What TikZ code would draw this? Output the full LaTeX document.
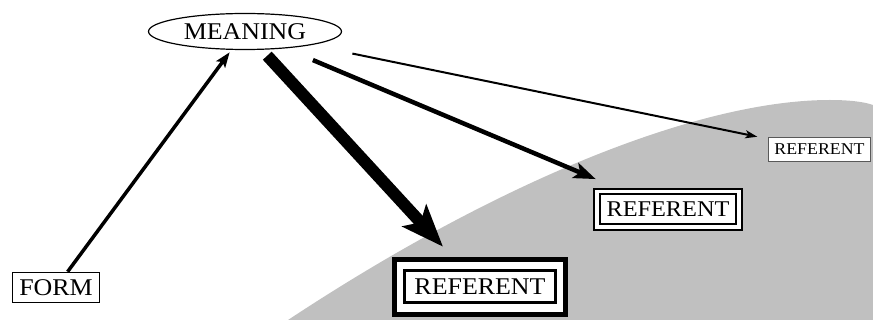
\documentclass[tikz,border=0pt]{standalone}
\usepackage{fontspec}
\setmainfont{Liberation Serif}[FakeStretch=1.08]
\usepackage{xcolor}
\usetikzlibrary{arrows.meta, shapes.geometric}
\definecolor{fieldgray}{RGB}{192,192,192}

\begin{document}
\begin{tikzpicture}[x=1pt, y=-1pt,
    word/.style={font=\fontsize{24}{28}\selectfont, inner sep=0pt},
    box/.style={word, draw, rectangle, fill=white},
    formarr/.style={-{Stealth[length=15pt, width=11pt, inset=3pt]}, line width=3.5pt},
    heavyarr/.style={-{Stealth[length=42pt, width=32pt, inset=9pt]}, line width=12pt},
    midarr/.style={-{Stealth[length=22pt, width=16pt, inset=5pt]}, line width=4.5pt},
    thinarr/.style={-{Stealth[length=12pt, width=8pt, inset=3pt]}, line width=2pt}
  ]
  \useasboundingbox (0,0) rectangle (873,320);
  % Gray field
  \fill[fieldgray] (288,320) .. controls (500,180) and (700,100) .. (830,100)
    .. controls (850,100) and (865,102) .. (873,105) -- (873,320) -- cycle;
  % Meaning and form
  \node[word, ellipse, draw, line width=1.2pt, minimum width=193, minimum height=36] (meaning) at (245,31.5) {MEANING};
  \node[box, line width=1.5pt, minimum width=87, minimum height=30] (form) at (56,287.5) {FORM};
  % Referents
  \node[box, line width=5pt, minimum width=171, minimum height=55] (refbigframe) at (480,287) {};
  \node[box, line width=3pt, minimum width=151, minimum height=32] (refbig) at (refbigframe) {REFERENT};
  \node[box, line width=2pt, minimum width=148, minimum height=41] (refmidframe) at (668,209.5) {};
  \node[box, line width=2pt, minimum width=136, minimum height=30, font=\fontsize{22.5}{26}\selectfont] (refmid) at (refmidframe) {REFERENT};
  \node[box, draw=gray!70!black, line width=0.8pt, minimum width=102, minimum height=24, font=\fontsize{16.5}{20}\selectfont] (refsmall) at (819.5,149.5) {REFERENT};
  % Arrows
  \draw[formarr, shorten >=3pt] (form) -- (meaning);
  \draw[heavyarr, shorten <=8pt, shorten >=14pt] (meaning) -- (refbigframe);
  \draw[midarr, shorten <=30pt, shorten >=23pt] (meaning) -- (refmidframe);
  \draw[thinarr, shorten <=42pt, shorten >=11pt] (meaning) -- (refsmall);
\end{tikzpicture}
\end{document}
